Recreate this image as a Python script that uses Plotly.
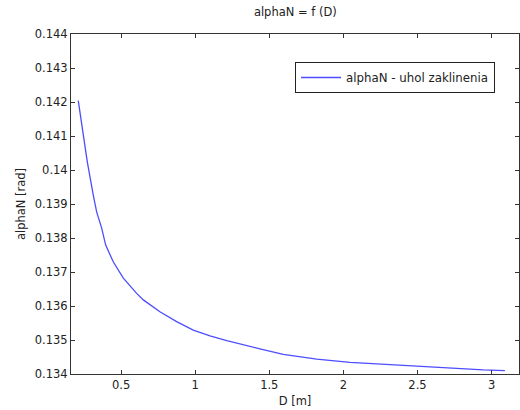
import plotly.graph_objects as go

# Wedging angle alphaN as a function of diameter D
D = [0.211, 0.238, 0.272, 0.312, 0.335, 0.369, 0.396, 0.447, 0.515, 0.605,
     0.650, 0.762, 0.875, 0.987, 1.100, 1.213, 1.325, 1.437, 1.594, 1.820,
     2.045, 2.269, 2.495, 2.719, 2.944, 3.090]
alphaN = [0.14204, 0.14123, 0.14024, 0.13927, 0.13877, 0.13829, 0.13779,
          0.13730, 0.13682, 0.13637, 0.13618, 0.13583, 0.13554, 0.13529,
          0.13512, 0.13498, 0.13485, 0.13474, 0.13458, 0.13444, 0.13434,
          0.13428, 0.13422, 0.13416, 0.13412, 0.13410]

x_ticks = [0.5, 1, 1.5, 2, 2.5, 3]
x_tick_text = ["0.5", "1", "1.5", "2", "2.5", "3"]
y_ticks = [0.134, 0.135, 0.136, 0.137, 0.138, 0.139, 0.140, 0.141, 0.142, 0.143, 0.144]
y_tick_text = ["0.134", "0.135", "0.136", "0.137", "0.138", "0.139", "0.14",
               "0.141", "0.142", "0.143", "0.144"]

FONT = "DejaVu Sans"
AX = "#333333"
TXT = "#222222"

fig = go.Figure()
fig.add_trace(go.Scatter(
    x=D, y=alphaN, mode="lines", name="alphaN - uhol zaklinenia",
    line=dict(color="#4d4dff", width=1.3),
))

axis_common = dict(
    showgrid=False, zeroline=False, showline=True, linecolor=AX, linewidth=1,
    mirror="ticks", ticks="inside", ticklen=4, tickcolor=AX, tickwidth=1,
    tickfont=dict(family=FONT, size=11.5, color=TXT),
)

fig.update_layout(
    width=520, height=410,
    margin=dict(l=71, r=1, t=34, b=36),
    paper_bgcolor="white", plot_bgcolor="white",
    title=dict(text="alphaN = f (D)", x=0.568, xanchor="center", y=0.97, yanchor="middle",
               font=dict(family=FONT, size=11.5, color=TXT)),
    xaxis=dict(range=[0.162, 3.185], tickvals=x_ticks, ticktext=x_tick_text,
               title=dict(text="D [m]", standoff=6,
                          font=dict(family=FONT, size=11.5, color=TXT)),
               **axis_common),
    yaxis=dict(range=[0.134, 0.144], tickvals=y_ticks, ticktext=y_tick_text,
               ticklabelstandoff=0,
               title=dict(text="alphaN [rad]", standoff=6,
                          font=dict(family=FONT, size=11.5, color=TXT)),
               **axis_common),
    showlegend=True,
    legend=dict(x=0.5, y=0.9176, xanchor="left", yanchor="top",
                bordercolor=TXT, borderwidth=1, bgcolor="white",
                font=dict(family=FONT, size=11.8, color=TXT),
                itemwidth=40, tracegroupgap=0),
)

fig.write_html("out.html")
